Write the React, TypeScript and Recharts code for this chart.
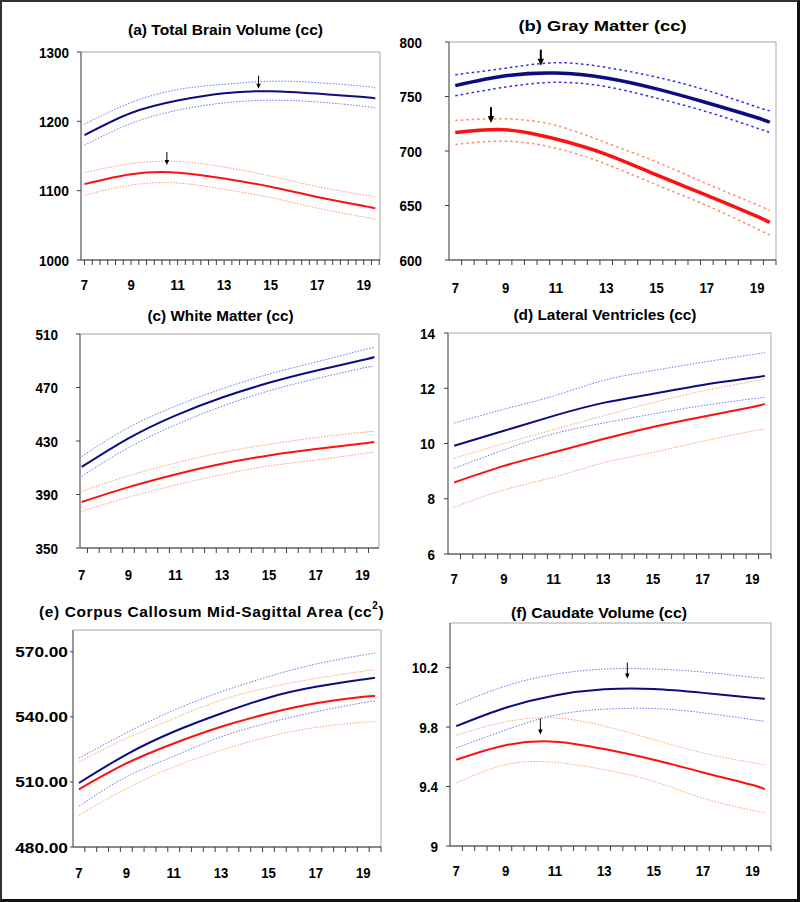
import React from 'react';
import { LineChart, Line, XAxis, YAxis, ReferenceArea, ReferenceDot } from 'recharts';

const FONT = '"Liberation Sans", Arial, Helvetica, sans-serif';

// Shared x values (age in years) and labels
const ages = [7, 9, 11, 13, 15, 17, 19, 19.5];
const xTickLabels = [7, 9, 11, 13, 15, 17, 19];

// (a) Total Brain Volume
const tbvYTicks = [1000, 1100, 1200, 1300];
const tbvMale = [1180, 1212, 1230, 1240.5, 1243.5, 1240, 1235, 1233];
const tbvMaleUp = [1196, 1227, 1245.8, 1253.4, 1257.8, 1255.8, 1250.6, 1248];
const tbvMaleLo = [1165.6, 1197, 1216, 1226.6, 1230.4, 1228, 1221.8, 1219];
const tbvFemale = [1109.4, 1123.8, 1126, 1117.6, 1105.6, 1091, 1078, 1074.4];
const tbvFemaleUp = [1126, 1139, 1142, 1134, 1121, 1106, 1094, 1091];
const tbvFemaleLo = [1093.6, 1108, 1111, 1102, 1090, 1075, 1062, 1059];

// (b) Gray Matter
const gmYTicks = [600, 650, 700, 750, 800];
const gmMale = [760, 769, 771.5, 767, 757, 744.3, 730.5, 726.2];
const gmMaleUp = [770, 776, 781, 776.7, 767.8, 755.6, 740.3, 737];
const gmMaleLo = [750.7, 758.7, 763, 759, 748.5, 736, 721, 717];
const gmFemale = [717, 719.5, 711, 697, 678, 659.4, 640, 634.3];
const gmFemaleUp = [728, 729.5, 723.5, 707.5, 690, 670, 650.6, 645];
const gmFemaleLo = [706, 709, 702.6, 688, 669, 650, 628.5, 623];

// (c) White Matter
const wmYTicks = [350, 390, 430, 470, 510];
const wmMale = [410.6, 432, 449, 462.5, 473.5, 482.5, 490.5, 492.8];
const wmMaleUp = [418.5, 440, 456, 469, 480, 489, 498, 500];
const wmMaleLo = [403.6, 425, 442, 456, 467.5, 476.5, 484.5, 485.8];
const wmFemale = [384.4, 395.5, 405, 413, 419.2, 424, 428.2, 429.3];
const wmFemaleUp = [392.4, 404, 413.5, 421.5, 427.5, 432.5, 436.5, 437.2];
const wmFemaleLo = [377.4, 388, 397, 405, 411.3, 415.8, 420.5, 421.8];

// (d) Lateral Ventricles
const lvYTicks = [6, 8, 10, 12, 14];
const lvMale = [9.92, 10.46, 11.0, 11.47, 11.8, 12.12, 12.38, 12.45];
const lvMaleUp = [10.74, 11.24, 11.72, 12.28, 12.64, 12.94, 13.22, 13.3];
const lvMaleLo = [9.1, 9.77, 10.35, 10.74, 11.07, 11.37, 11.62, 11.67];
const lvFemale = [8.59, 9.19, 9.68, 10.16, 10.6, 10.97, 11.32, 11.44];
const lvFemaleUp = [9.47, 10.0, 10.5, 11.0, 11.48, 11.9, 12.25, 12.33];
const lvFemaleLo = [7.69, 8.32, 8.78, 9.3, 9.68, 10.08, 10.45, 10.52];

// (e) Corpus Callosum Mid-Sagittal Area
const ccYTicks = [480, 510, 540, 570];
const ccMale = [509.5, 522.6, 533.1, 541.5, 548.8, 553.8, 557.2, 558];
const ccMaleUp = [521, 532.6, 543, 551.5, 558.5, 564.3, 568.5, 569.2];
const ccMaleLo = [498.8, 512.3, 521.8, 530.8, 537.2, 542.3, 546.5, 547.2];
const ccFemale = [506.6, 518.5, 527.7, 535.4, 541.5, 546.2, 549.2, 549.5];
const ccFemaleUp = [519.2, 530, 539.2, 547.7, 553.5, 557.7, 561, 561.5];
const ccFemaleLo = [494.6, 506.9, 516.9, 524.6, 530.8, 535.1, 537.5, 537.7];

// (f) Caudate Volume
const cdYTicks = [9, 9.4, 9.8, 10.2];
const cdMale = [9.806, 9.93, 10.013, 10.054, 10.056, 10.03, 9.998, 9.99];
const cdMaleUp = [9.95, 10.076, 10.155, 10.19, 10.19, 10.17, 10.135, 10.13];
const cdMaleLo = [9.66, 9.78, 9.88, 9.92, 9.925, 9.896, 9.85, 9.84];
const cdFemale = [9.58, 9.678, 9.702, 9.652, 9.58, 9.495, 9.41, 9.38];
const cdFemaleUp = [9.745, 9.835, 9.862, 9.806, 9.716, 9.626, 9.56, 9.547];
const cdFemaleLo = [9.423, 9.547, 9.563, 9.513, 9.435, 9.322, 9.24, 9.225];

// Peak-age arrows: [age, value at arrow tip]
const tbvArrows = [[14.48, 1247], [10.54, 1137]];
const gmArrows = [[10.4, 778.3], [8.42, 725.6]];
const cdArrows = [[13.93, 10.126], [10.41, 9.75]];

type ArrowDef = { x: number; y: number; len: number; w: number; head: number };

type Panel = {
  id: string;
  title: string;
  sup?: string;
  titleX: number;
  titleY: number;
  titleLen?: number;
  titleSize: number;
  titleSpacing?: number;
  rect: [number, number, number, number];
  xDomain: [number, number];
  minorStart: number;
  minorStep: number;
  yDomain: [number, number];
  yTicks: number[];
  yDecimals: number;
  yGap: number;
  yTickSize: number;
  yCharW: number;
  labelDy: number;
  m: number[]; mu: number[]; ml: number[];
  f: number[]; fu: number[]; fl: number[];
  meanW: number;
  ciW: number;
  ciDash: string;
  blueCi: string;
  orangeCi: string;
  arrows: ArrowDef[];
};

const mkArrows = (list: number[][], len: number, w: number, head: number): ArrowDef[] =>
  list.map(([x, y]) => ({ x, y, len, w, head }));

const panels: Panel[] = [
  {
    id: 'a', title: '(a) Total Brain Volume (cc)', titleX: 225.5, titleY: 29, titleLen: 195, titleSize: 15.5,
    rect: [81, 52, 380, 260], xDomain: [6.85, 19.7], minorStart: 7, minorStep: 1 / 3,
    yDomain: [1000, 1300], yTicks: tbvYTicks, yDecimals: 0, yGap: 12, yTickSize: 4, yCharW: 7.5, labelDy: 24,
    m: tbvMale, mu: tbvMaleUp, ml: tbvMaleLo, f: tbvFemale, fu: tbvFemaleUp, fl: tbvFemaleLo,
    meanW: 2, ciW: 1, ciDash: '1.5 1.5', blueCi: '#7474f0', orangeCi: '#ff9a70',
    arrows: mkArrows(tbvArrows, 13, 1, 5),
  },
  {
    id: 'b', title: '(b) Gray Matter (cc)', titleX: 602.5, titleY: 25, titleLen: 168, titleSize: 15.5,
    rect: [449, 42, 776, 260], xDomain: [6.75, 19.75], minorStart: 7.25, minorStep: 0.5,
    yDomain: [600, 800], yTicks: gmYTicks, yDecimals: 0, yGap: 27, yTickSize: 4, yCharW: 7.5, labelDy: 27,
    m: gmMale, mu: gmMaleUp, ml: gmMaleLo, f: gmFemale, fu: gmFemaleUp, fl: gmFemaleLo,
    meanW: 3.5, ciW: 1.5, ciDash: '2.5 3', blueCi: '#2c2cf0', orangeCi: '#ff8c60',
    arrows: mkArrows(gmArrows, 16, 2, 7),
  },
  {
    id: 'c', title: '(c) White Matter (cc)', titleX: 220.5, titleY: 315, titleLen: 146, titleSize: 15.5,
    rect: [80, 334, 379, 548], xDomain: [6.93, 19.7], minorStart: 7.25, minorStep: 0.5,
    yDomain: [350, 510], yTicks: wmYTicks, yDecimals: 0, yGap: 22, yTickSize: 4, yCharW: 7.5, labelDy: 26,
    m: wmMale, mu: wmMaleUp, ml: wmMaleLo, f: wmFemale, fu: wmFemaleUp, fl: wmFemaleLo,
    meanW: 2, ciW: 1, ciDash: '1.5 1.5', blueCi: '#7474f0', orangeCi: '#ff9a70',
    arrows: [],
  },
  {
    id: 'd', title: '(d) Lateral Ventricles (cc)', titleX: 605, titleY: 314, titleLen: 183, titleSize: 15.5,
    rect: [448, 333, 771, 554], xDomain: [6.75, 19.75], minorStart: 7.25, minorStep: 0.5,
    yDomain: [6, 14], yTicks: lvYTicks, yDecimals: 0, yGap: 13, yTickSize: 4, yCharW: 7.5, labelDy: 24,
    m: lvMale, mu: lvMaleUp, ml: lvMaleLo, f: lvFemale, fu: lvFemaleUp, fl: lvFemaleLo,
    meanW: 2, ciW: 1, ciDash: '1.5 1.5', blueCi: '#7474f0', orangeCi: '#ffa070',
    arrows: [],
  },
  {
    id: 'e', title: '(e) Corpus Callosum Mid-Sagittal Area (cc', sup: '2', titleX: 211.7, titleY: 611, titleSize: 15.5,
    titleSpacing: 0.6,
    rect: [73, 630, 381, 847], xDomain: [6.75, 19.75], minorStart: 7.25, minorStep: 0.5,
    yDomain: [480, 580], yTicks: ccYTicks, yDecimals: 2, yGap: 5, yTickSize: 3, yCharW: 9.6, labelDy: 25,
    m: ccMale, mu: ccMaleUp, ml: ccMaleLo, f: ccFemale, fu: ccFemaleUp, fl: ccFemaleLo,
    meanW: 2, ciW: 1, ciDash: '1.5 1.5', blueCi: '#7474f0', orangeCi: '#ffa070',
    arrows: [],
  },
  {
    id: 'f', title: '(f) Caudate Volume (cc)', titleX: 599, titleY: 612, titleLen: 176, titleSize: 15.5,
    rect: [450, 623, 771, 846], xDomain: [6.75, 19.75], minorStart: 7.25, minorStep: 0.5,
    yDomain: [9, 10.5], yTicks: cdYTicks, yDecimals: -1, yGap: 12, yTickSize: 4, yCharW: 7.5, labelDy: 24,
    m: cdMale, mu: cdMaleUp, ml: cdMaleLo, f: cdFemale, fu: cdFemaleUp, fl: cdFemaleLo,
    meanW: 2, ciW: 1, ciDash: '1.5 1.5', blueCi: '#7474f0', orangeCi: '#ffa070',
    arrows: mkArrows(cdArrows, 16, 1, 5),
  },
];

const NAVY = '#0c0c80';
const RED = '#ff1010';
const YW = 80;
const MT = 12;
const MR = 12;
const XH = 44;
const TICK_FONT = 15.5;

const near = (list: number[], v: number) => list.some((l) => Math.abs(l - v) < 1e-4);

const textWidth = (s: string, charW: number) =>
  s.split('').reduce((acc, ch) => acc + (ch === '.' ? charW * 0.5 : charW), 0);

function buildTicks(p: Panel) {
  const minors: number[] = [];
  for (let v = p.minorStart; v <= p.xDomain[1] + 1e-6; v += p.minorStep) minors.push(+v.toFixed(4));
  const all = [...minors];
  xTickLabels.forEach((l) => { if (!near(all, l)) all.push(l); });
  all.sort((a, b) => a - b);
  return { minors, all };
}

function makeXTick(minors: number[], dy: number) {
  return (props: any) => {
    const { x, y, payload } = props;
    const v = payload.value;
    const s = String(v);
    return (
      <g>
        {near(minors, v) ? <line x1={x} x2={x} y1={y} y2={y + 5} stroke="#404040" strokeWidth={1} /> : null}
        {near(xTickLabels, v) ? (
          <text x={x} y={y + dy} textAnchor="middle" dominantBaseline="central"
            fontFamily={FONT} fontWeight="bold" fontSize={TICK_FONT} fill="#000"
            textLength={textWidth(s, 7.3)} lengthAdjust="spacingAndGlyphs">{s}</text>
        ) : null}
      </g>
    );
  };
}

function makeYTick(p: Panel) {
  return (props: any) => {
    const { x, y, payload } = props;
    const v = payload.value;
    const s = p.yDecimals >= 0 ? Number(v).toFixed(p.yDecimals) : String(v);
    return (
      <text x={x} y={y} textAnchor="end" dominantBaseline="central"
        fontFamily={FONT} fontWeight="bold" fontSize={TICK_FONT} fill="#000"
        textLength={textWidth(s, p.yCharW)} lengthAdjust="spacingAndGlyphs">{s}</text>
    );
  };
}

function arrowShape(a: ArrowDef) {
  return (props: any) => {
    const { cx, cy } = props;
    const hw = a.head * 0.45;
    return (
      <g>
        <line x1={cx} y1={cy - a.len} x2={cx} y2={cy - a.head + 1} stroke="#000" strokeWidth={a.w} />
        <polygon points={`${cx - hw},${cy - a.head} ${cx + hw},${cy - a.head} ${cx},${cy}`} fill="#000" />
      </g>
    );
  };
}

function PanelChart({ p }: { p: Panel }) {
  const [x0, y0, x1, y1] = p.rect;
  const pw = x1 - x0;
  const ph = y1 - y0;
  const data = ages.map((a, i) => ({
    age: a, m: p.m[i], mu: p.mu[i], ml: p.ml[i], f: p.f[i], fu: p.fu[i], fl: p.fl[i],
  }));
  const { minors, all } = buildTicks(p);
  return (
    <div style={{ position: 'absolute', left: x0 - YW, top: y0 - MT }}>
      <LineChart width={pw + YW + MR} height={ph + MT + XH} data={data}
        margin={{ top: MT, right: MR, left: 0, bottom: 0 }}>
        <ReferenceArea x1={p.xDomain[0]} x2={p.xDomain[1]} y1={p.yDomain[0]} y2={p.yDomain[1]}
          fill="none" stroke="#a8a8a8" strokeWidth={1} ifOverflow="visible" />
        <XAxis dataKey="age" type="number" domain={p.xDomain} allowDataOverflow ticks={all} interval={0}
          tickSize={0} tickMargin={0} tickLine={false} height={XH}
          axisLine={{ stroke: '#404040', strokeWidth: 1 }} tick={makeXTick(minors, p.labelDy)} />
        <YAxis type="number" domain={p.yDomain} allowDataOverflow ticks={p.yTicks} interval={0} width={YW}
          tickSize={p.yTickSize} tickMargin={p.yGap - p.yTickSize}
          axisLine={{ stroke: '#606060', strokeWidth: 1 }} tickLine={{ stroke: '#404040' }}
          tick={makeYTick(p)} />
        <Line type="natural" dataKey="mu" stroke={p.blueCi} strokeWidth={p.ciW} strokeDasharray={p.ciDash} dot={false} isAnimationActive={false} />
        <Line type="natural" dataKey="ml" stroke={p.blueCi} strokeWidth={p.ciW} strokeDasharray={p.ciDash} dot={false} isAnimationActive={false} />
        <Line type="natural" dataKey="fu" stroke={p.orangeCi} strokeWidth={p.ciW} strokeDasharray={p.ciDash} dot={false} isAnimationActive={false} />
        <Line type="natural" dataKey="fl" stroke={p.orangeCi} strokeWidth={p.ciW} strokeDasharray={p.ciDash} dot={false} isAnimationActive={false} />
        <Line type="natural" dataKey="m" stroke={NAVY} strokeWidth={p.meanW} dot={false} isAnimationActive={false} />
        <Line type="natural" dataKey="f" stroke={RED} strokeWidth={p.meanW} dot={false} isAnimationActive={false} />
        {p.arrows.map((a, i) => (
          <ReferenceDot key={i} x={a.x} y={a.y} r={0} ifOverflow="visible" shape={arrowShape(a)} />
        ))}
      </LineChart>
    </div>
  );
}

export default function App() {
  return (
    <div style={{ position: 'absolute', left: 0, top: 0, width: 800, height: 902, background: '#fff', fontFamily: FONT }}>
      <div style={{
        position: 'absolute', left: 0, top: 0, width: 800, height: 902, boxSizing: 'border-box',
        borderLeft: '2px solid #333', borderTop: '2px solid #333', borderRight: '3px solid #111', borderBottom: '3px solid #111',
      }} />
      {panels.map((p) => <PanelChart key={p.id} p={p} />)}
      <svg width={800} height={902} style={{ position: 'absolute', left: 0, top: 0, pointerEvents: 'none' }}>
        {panels.map((p) => (
          <text key={p.id} x={p.titleX} y={p.titleY} textAnchor="middle" dominantBaseline="central"
            fontFamily={FONT} fontWeight="bold" fontSize={p.titleSize} fill="#000"
            letterSpacing={p.titleSpacing || 0}
            {...(p.titleLen ? { textLength: p.titleLen, lengthAdjust: 'spacingAndGlyphs' } : {})}>
            {p.title}
            {p.sup ? <tspan dy={-6} fontSize={10}>{p.sup}</tspan> : null}
            {p.sup ? <tspan dy={6}>)</tspan> : null}
          </text>
        ))}
      </svg>
    </div>
  );
}
